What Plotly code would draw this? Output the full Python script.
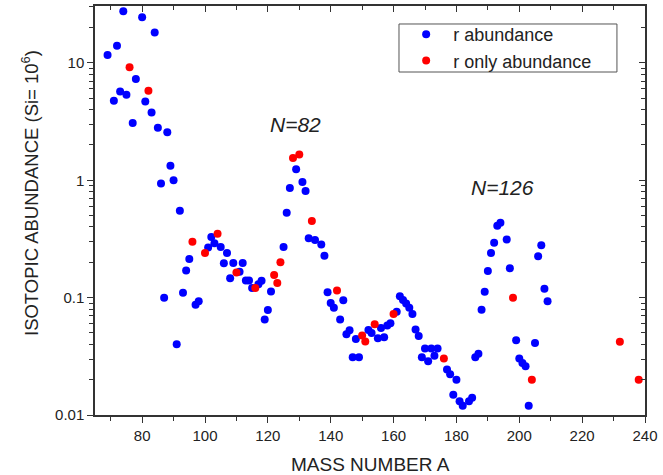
import plotly.graph_objects as go

# r abundance (blue)
mass_r = [69, 71, 72, 73, 74, 75, 77, 78, 80, 81, 83, 84, 85, 86, 87, 88, 89, 90, 91, 92,
          93, 94, 95, 97, 98, 101, 102, 103, 105, 106, 107, 108, 109, 111, 112, 113, 114, 115,
          117, 118, 119, 120, 121, 125, 126, 127, 129, 131, 132, 133, 135, 137, 138, 139, 140,
          141, 143, 144, 145, 146, 147, 148, 149, 152, 153, 155, 156, 157, 158, 159, 161, 162,
          163, 164, 165, 166, 167, 168, 169, 170, 171, 172, 173, 174, 177, 178, 179, 180, 181,
          182, 184, 185, 186, 187, 188, 189, 190, 191, 192, 193, 194, 196, 197, 199, 200, 201,
          202, 203, 205, 206, 207, 208, 209]
abund_r = [11.7, 4.75, 14, 5.7, 27.6, 5.35, 3.07, 7.3, 24.5, 4.7, 3.78, 18.2, 2.8, 0.94, 0.10,
           2.57, 1.33, 1.0, 0.040, 0.55, 0.11, 0.17, 0.213, 0.087, 0.093, 0.268, 0.328, 0.29,
           0.27, 0.196, 0.24, 0.146, 0.197, 0.166, 0.197, 0.14, 0.14, 0.121, 0.13, 0.139, 0.065,
           0.0786, 0.113, 0.27, 0.53, 0.86, 1.24, 0.966, 0.81, 0.32, 0.31, 0.284, 0.227, 0.111,
           0.09, 0.082, 0.065, 0.095, 0.0487, 0.0527, 0.031, 0.0445, 0.031, 0.053, 0.05, 0.045,
           0.055, 0.046, 0.058, 0.0604, 0.076, 0.103, 0.0955, 0.089, 0.082, 0.0726, 0.0535,
           0.047, 0.031, 0.0368, 0.0287, 0.0368, 0.032, 0.0368, 0.0244, 0.0222, 0.0149, 0.02,
           0.0131, 0.012, 0.0131, 0.014, 0.031, 0.0333, 0.079, 0.112, 0.169, 0.24, 0.294, 0.41,
           0.435, 0.313, 0.178, 0.0434, 0.0303, 0.0278, 0.026, 0.012, 0.041, 0.225, 0.28, 0.119,
           0.093]

# r only abundance (red)
mass_ronly = [76, 82, 96, 100, 104, 110, 116, 122, 123, 124, 128, 130, 134, 142, 150, 151,
              154, 160, 176, 198, 204, 232, 238]
abund_ronly = [9.2, 5.8, 0.30, 0.24, 0.35, 0.164, 0.121, 0.156, 0.133, 0.2, 1.55, 1.66, 0.45,
               0.115, 0.0475, 0.0423, 0.0593, 0.0726, 0.0303, 0.1, 0.02, 0.042, 0.02]

x_major = [80, 100, 120, 140, 160, 180, 200, 220, 240]
x_minor = [70, 90, 110, 130, 150, 170, 190, 210, 230]
y_major = [0.01, 0.1, 1, 10]
y_major_text = ["0.01", "0.1", "1", "10"]
y_minor = [m * d for d in (0.01, 0.1, 1, 10) for m in range(2, 10) if m * d < 31]

FONT = "Liberation Sans, Arial, sans-serif"
AX = "#333333"
TXT = "#222222"

fig = go.Figure()
fig.add_trace(go.Scatter(x=mass_r, y=abund_r, mode="markers", name="r abundance",
                         marker=dict(color="#0000ff", size=8)))
fig.add_trace(go.Scatter(x=mass_ronly, y=abund_ronly, mode="markers", name="r only abundance",
                         marker=dict(color="#ff0000", size=8)))
# invisible trace to anchor mirrored axes
fig.add_trace(go.Scatter(x=[100], y=[1], xaxis="x2", yaxis="y2", mode="markers",
                         marker=dict(opacity=0), showlegend=False, hoverinfo="skip"))

common_x = dict(range=[65, 240], showgrid=False, zeroline=False, showline=True,
                linecolor=AX, linewidth=1.5, tickvals=x_major, tickcolor=AX, tickwidth=1.2)
common_y = dict(type="log", range=[-2, 1.485], showgrid=False, zeroline=False, showline=True,
                linecolor=AX, linewidth=1.5, tickvals=y_major, tickcolor=AX, tickwidth=1.2)

fig.update_layout(
    width=663, height=475,
    margin=dict(l=95, r=18, t=6, b=60),
    plot_bgcolor="white", paper_bgcolor="white",
    font=dict(family=FONT, color=TXT),
    xaxis=dict(**common_x, ticks="outside", ticklen=6,
               tickfont=dict(size=15, family=FONT, color=TXT),
               minor=dict(tickvals=x_minor, ticks="outside", ticklen=4, tickcolor=AX)),
    xaxis2=dict(**common_x, overlaying="x", side="top", ticks="inside", ticklen=6,
                showticklabels=False,
                minor=dict(tickvals=x_minor, ticks="inside", ticklen=4, tickcolor=AX)),
    yaxis=dict(**common_y, ticktext=y_major_text, ticks="outside", ticklen=6,
               tickfont=dict(size=15, family=FONT, color=TXT),
               minor=dict(tickvals=y_minor, ticks="outside", ticklen=4, tickcolor=AX)),
    yaxis2=dict(**common_y, overlaying="y", side="right", ticks="inside", ticklen=6,
                showticklabels=False,
                minor=dict(tickvals=y_minor, ticks="inside", ticklen=4, tickcolor=AX)),
    legend=dict(x=0.553, y=0.9756, xanchor="left", yanchor="top",
                bgcolor="rgba(0,0,0,0)", borderwidth=0,
                font=dict(size=18, family=FONT, color=TXT),
                itemwidth=44, tracegroupgap=0),
    showlegend=True,
)

# legend frame
fig.add_shape(type="rect", xref="paper", yref="paper",
              x0=0.5527, x1=0.949, y0=0.8386, y1=0.956,
              line=dict(color="#555555", width=1), fillcolor="rgba(0,0,0,0)", layer="above")

fig.add_annotation(text="<i>N=82</i>", x=128.7, y=0.472, xref="x", yref="y",
                   xanchor="center", yanchor="middle",
                   showarrow=False, font=dict(size=21, family=FONT, color=TXT))
fig.add_annotation(text="<i>N=126</i>", x=194.6, y=-0.064, xref="x", yref="y",
                   xanchor="center", yanchor="middle",
                   showarrow=False, font=dict(size=21, family=FONT, color=TXT))
fig.add_annotation(text="ISOTOPIC ABUNDANCE (Si= 10<sup>6</sup>)", textangle=-90,
                   x=-0.118, y=0.543, xref="paper", yref="paper", showarrow=False,
                   xanchor="center", yanchor="middle",
                   font=dict(size=18.5, family=FONT, color=TXT))
fig.add_annotation(text="MASS NUMBER A", x=0.5, y=-0.122, xref="paper", yref="paper",
                   xanchor="center", yanchor="middle",
                   showarrow=False, font=dict(size=19, family=FONT, color=TXT))

fig.write_html("out.html", config={"displayModeBar": False},
               post_script="document.body.style.margin='0px';")
